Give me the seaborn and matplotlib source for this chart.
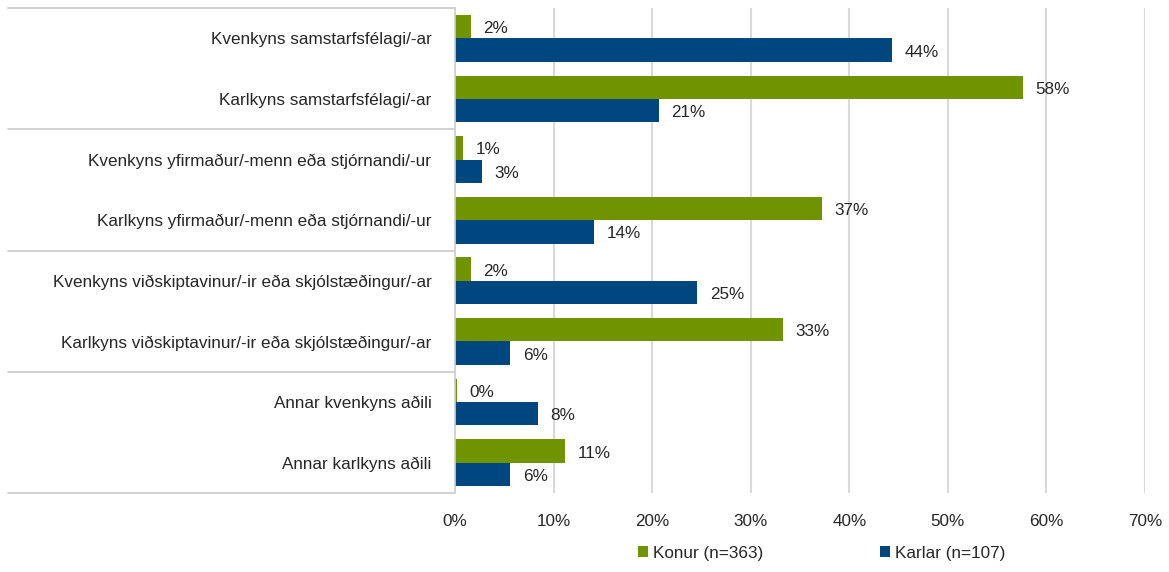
import pandas as pd
import numpy as np
import matplotlib
matplotlib.use("Agg")
import matplotlib.pyplot as plt
import matplotlib.transforms as mtransforms
from matplotlib import font_manager
from matplotlib.patches import Patch
import seaborn as sns

categories = [
    "Kvenkyns samstarfsfélagi/-ar",
    "Karlkyns samstarfsfélagi/-ar",
    "Kvenkyns yfirmaður/-menn eða stjórnandi/-ur",
    "Karlkyns yfirmaður/-menn eða stjórnandi/-ur",
    "Kvenkyns viðskiptavinur/-ir eða skjólstæðingur/-ar",
    "Karlkyns viðskiptavinur/-ir eða skjólstæðingur/-ar",
    "Annar kvenkyns aðili",
    "Annar karlkyns aðili",
]
series = ["Konur (n=363)", "Karlar (n=107)"]
konur = [1.6, 57.6, 0.8, 37.2, 1.6, 33.3, 0.2, 11.2]
karlar = [44.3, 20.7, 2.7, 14.1, 24.6, 5.6, 8.4, 5.6]
x_ticks = [0, 10, 20, 30, 40, 50, 60, 70]

colors = ["#709400", "#00467F"]

df = pd.DataFrame({
    "category": categories * 2,
    "series": [series[0]] * len(categories) + [series[1]] * len(categories),
    "value": konur + karlar,
})

sns.set_style("white")
names = {f.name for f in font_manager.fontManager.ttflist}
if "Liberation Sans Narrow" in names:
    plt.rcParams["font.family"] = ["Liberation Sans Narrow", "DejaVu Sans"]
    fs = 14.5
else:
    plt.rcParams["font.family"] = ["Liberation Sans", "DejaVu Sans"]
    fs = 12.3
text_color = "#262626"

fig = plt.figure(figsize=(11.69, 5.72), dpi=100)
ax = fig.add_axes([455 / 1169, 1 - 493 / 572, (1145 - 455) / 1169, (493 - 8) / 572])

sns.barplot(data=df, y="category", x="value", hue="series", orient="h",
            palette=colors, width=0.77, ax=ax, legend=False,
            edgecolor="none", saturation=1)

for cont in ax.containers:
    lbls = ax.bar_label(cont, labels=[f"{v:.0f}%" for v in cont.datavalues],
                        padding=9, fontsize=fs, color=text_color)
    for t in lbls:
        t.set_y(-1.5)

ax.set_xlim(0, 70)
ax.set_ylim(len(categories) - 0.5, -0.5)
ax.set_xticks(x_ticks)
ax.set_xticklabels([f"{t}%" for t in x_ticks], fontsize=fs, color=text_color)
ax.tick_params(axis="x", length=0, pad=15)
ax.tick_params(axis="y", length=0, pad=17, labelsize=fs, labelcolor=text_color)
ax.set_xlabel("")
ax.set_ylabel("")
ax.grid(axis="x", color="#d9d9d9", linewidth=1.5)
ax.set_axisbelow(True)
for s in ["top", "right", "bottom"]:
    ax.spines[s].set_visible(False)
ax.spines["left"].set_color("#d0d0d0")
ax.spines["left"].set_linewidth(1.2)

# group separators on the left
trans = mtransforms.blended_transform_factory(fig.transFigure, ax.transData)
for yb in np.arange(-0.5, len(categories), 2):
    ax.plot([8 / 1169, 455 / 1169], [yb, yb], transform=trans, color="#c8c8c8",
            linewidth=1.2, clip_on=False)

handles = [Patch(facecolor=c, edgecolor="none") for c in colors]
fig.legend(handles, series, loc="center", bbox_to_anchor=(0.703, 0.033), ncol=2,
           frameon=False, fontsize=fs, handlelength=0.6, handleheight=0.6,
           handletextpad=0.3, columnspacing=6.8, labelcolor=text_color)

fig.savefig("out.png", dpi=100)
